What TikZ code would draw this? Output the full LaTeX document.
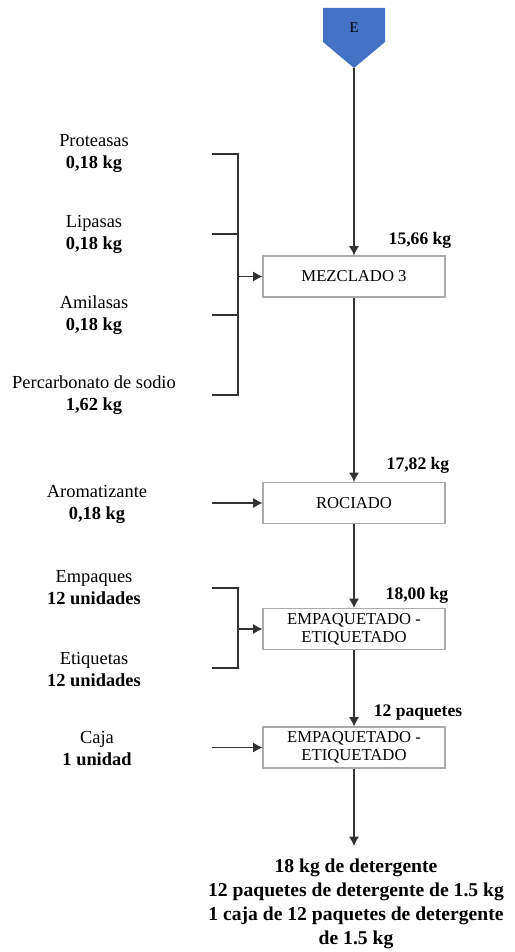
\documentclass[tikz,border=0pt]{standalone}
\usepackage{fontspec}
\setmainfont{Liberation Serif}
\usepackage{xcolor}
\usetikzlibrary{arrows.meta,positioning}
\definecolor{boxgray}{RGB}{170,170,170}
\definecolor{startblue}{RGB}{68,114,196}
\definecolor{linegray}{RGB}{50,50,50}

\begin{document}
\begin{tikzpicture}[x=0.75pt,y=-0.75pt,
    procbox/.style={rectangle, draw=boxgray, fill=white, line width=0.8pt,
                    minimum width=136.5pt, minimum height=30.75pt, align=center,
                    font=\rmfamily\fontsize{12.5}{13.5}\selectfont, inner sep=1pt},
    inlabel/.style={align=center, font=\rmfamily\fontsize{13.8}{16.5}\selectfont},
    flowlabel/.style={font=\rmfamily\fontsize{13.2}{15}\selectfont\bfseries},
    arrow/.style={-{Latex[length=7pt,width=7.5pt]}, line width=0.9pt, draw=linegray},
    bracket/.style={line width=0.9pt, draw=linegray}
]
\useasboundingbox (0,0) rectangle (514,952);

% inicio
\fill[startblue] (323,8) -- (385,8) -- (385,42) -- (354,68) -- (323,42) -- cycle;
\node[font=\rmfamily\fontsize{11}{12}\selectfont] (e) at (354,28) {E};
\coordinate (etip) at (354,68);

% operaciones
\node[procbox] (mez) at (354,276.5) {MEZCLADO 3};
\node[procbox] (roc) at (354,503) {ROCIADO};
\node[procbox] (emp1) at (354,629) {EMPAQUETADO -\\ETIQUETADO};
\node[procbox] (emp2) at (354,747.5) {EMPAQUETADO -\\ETIQUETADO};
\coordinate (fin) at (354,846);

% entradas
\node[inlabel] (prot) at (94,154) {Proteasas\\\textbf{0,18 kg}};
\node[inlabel] (lip) at (94,234) {Lipasas\\\textbf{0,18 kg}};
\node[inlabel] (ami) at (94,315) {Amilasas\\\textbf{0,18 kg}};
\node[inlabel] (perc) at (94,395) {Percarbonato de sodio\\\textbf{1,62 kg}};
\node[inlabel] (aro) at (97,504) {Aromatizante\\\textbf{0,18 kg}};
\node[inlabel] (empq) at (94,588) {Empaques\\\textbf{12 unidades}};
\node[inlabel] (etiq) at (94,670) {Etiquetas\\\textbf{12 unidades}};
\node[inlabel] (caja) at (97,749) {Caja\\\textbf{1 unidad}};

% corrientes
\node[flowlabel] (f1) at (420,240) {15,66 kg};
\node[flowlabel] (f2) at (418,465) {17,82 kg};
\node[flowlabel] (f3) at (417,595) {18,00 kg};
\node[flowlabel] (f4) at (418,713) {12 paquetes};

% producto
\node[align=center, font=\rmfamily\fontsize{14.7}{18}\selectfont\bfseries] (prod) at (356,904)
    {18 kg de detergente\\12 paquetes de detergente de 1.5 kg\\1 caja de 12 paquetes de detergente\\de 1.5 kg};

% llaves
\draw[bracket] (212,154) -- (238,154) -- (238,395) -- (212,395);
\draw[bracket] (212,234) -- (238,234);
\draw[bracket] (212,315) -- (238,315);
\draw[bracket] (212,588) -- (238,588) -- (238,668) -- (212,668);
\coordinate (b1) at (238,276.5);
\coordinate (b2) at (238,629);
\coordinate (a1) at (212,503);
\coordinate (a2) at (212,747.5);

% flechas
\draw[arrow] (etip) -- (mez);
\draw[arrow] (mez) -- (roc);
\draw[arrow] (roc) -- (emp1);
\draw[arrow] (emp1) -- (emp2);
\draw[arrow] (emp2) -- (fin);
\draw[arrow] (b1) -- (mez);
\draw[arrow] (a1) -- (roc);
\draw[arrow] (b2) -- (emp1);
\draw[arrow] (a2) -- (emp2);
\end{tikzpicture}
\end{document}
